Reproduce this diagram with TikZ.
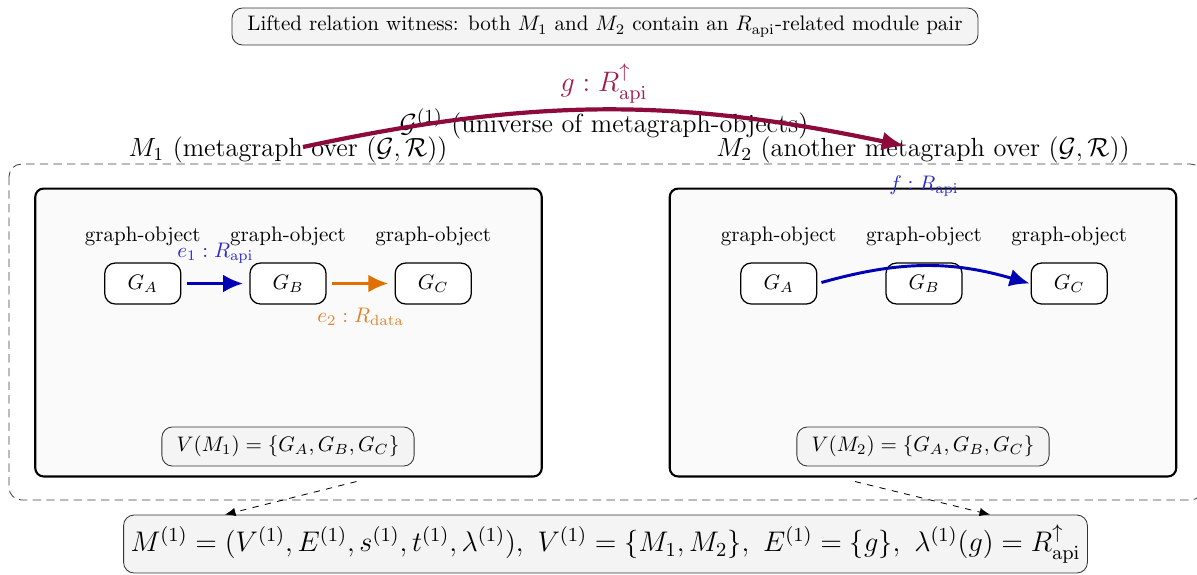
\RequirePackage{fix-cm}
\documentclass[tikz,border=0pt]{standalone}
\usepackage{amsmath}
\usepackage{amssymb}
\usetikzlibrary{arrows.meta,positioning,fit,backgrounds,calc}
\definecolor{liftred}{HTML}{8C0A3C}
\definecolor{liftlab}{HTML}{A01E4B}
\definecolor{apiblue}{HTML}{0000B4}
\definecolor{apilab}{HTML}{2828D2}
\definecolor{dataorange}{HTML}{E07000}
\definecolor{datalab}{HTML}{E08228}
\definecolor{panelbg}{HTML}{FAFAFA}
\definecolor{tagbg}{HTML}{F4F4F4}
\tikzset{
  headbox/.style={
    rectangle, rounded corners=5pt, draw=black!80, thin,
    fill=tagbg, minimum width=355pt, minimum height=17.6pt, font=\normalsize
  },
  mgbox/.style={
    rectangle, rounded corners=4pt, draw=black, line width=1pt,
    fill=panelbg, minimum width=241pt, minimum height=137pt
  },
  gobj/.style={
    rectangle, rounded corners=5pt, draw=black, semithick,
    fill=white, minimum width=36.2pt, minimum height=19.5pt
  },
  gcap/.style={font=\normalsize, inner sep=1pt},
  vset/.style={
    rectangle, rounded corners=5pt, draw=black!80, thin,
    fill=tagbg, minimum width=120pt, minimum height=18.6pt
  },
  mglabel/.style={font=\fontsize{12.5}{15}\selectfont, inner sep=0pt},
  edgelab/.style={font=\normalsize, inner sep=0pt},
  liftarrow/.style={-{Latex[length=11pt,width=9pt]}, line width=2pt, color=liftred},
  apiarrow/.style={-{Latex[length=9.5pt,width=8.5pt]}, line width=1.4pt, color=apiblue},
  dataarrow/.style={-{Latex[length=9.5pt,width=8.5pt]}, line width=1.4pt, color=dataorange},
  projarrow/.style={-{Latex[length=5pt,width=4pt]}, thin, dashed},
}
\begin{document}
\begin{tikzpicture}[x=0.01673cm, y=-0.01673cm, node distance=32.3pt]
  \useasboundingbox (0,0) rectangle (1197,574);
  % universe of metagraph-objects
  \draw[black!75, thin, dash pattern=on 4pt off 2.5pt, rounded corners=6pt] (9,164) rectangle (1203,500);
  \node[headbox] (head) at (605,26.5) {Lifted relation witness: both $M_1$ and $M_2$ contain an $R_{\mathrm{api}}$-related module pair};
  \node[mglabel] (univ) at (604,124) {$\mathcal{G}^{(1)}$ (universe of metagraph-objects)};

  % first metagraph
  \node[mgbox] (m1) at (288.5,332.5) {};
  \node[mglabel] (m1lab) at (288,150) {$M_1$ (metagraph over $(\mathcal{G},\mathcal{R})$)};
  \node[gobj] (m1b) at (288,283.5) {$G_B$};
  \node[gobj, left=of m1b] (m1a) {$G_A$};
  \node[gobj, right=of m1b] (m1c) {$G_C$};
  \foreach \g in {m1a,m1b,m1c}
    \node[gcap, above=6.5pt of \g] {graph-object};
  \node[vset] (v1) at (288,446.5) {$V(M_1)=\{G_A,G_B,G_C\}$};
  \draw[apiarrow, shorten <=2.5pt, shorten >=3pt] (m1a) -- node[edgelab, above=9pt, text=apilab]{$e_1 : R_{\mathrm{api}}$} (m1b);
  \draw[dataarrow, shorten <=2.5pt, shorten >=3pt] (m1b) -- node[edgelab, below=11pt, text=datalab]{$e_2 : R_{\mathrm{data}}$} (m1c);

  % second metagraph
  \node[mgbox] (m2) at (923,332.5) {};
  \node[mglabel] (m2lab) at (923,150) {$M_2$ (another metagraph over $(\mathcal{G},\mathcal{R})$)};
  \node[gobj] (m2b) at (924,283.5) {$G_B$};
  \node[gobj, left=of m2b] (m2a) {$G_A$};
  \node[gobj, right=of m2b] (m2c) {$G_C$};
  \foreach \g in {m2a,m2b,m2c}
    \node[gcap, above=6.5pt of \g] {graph-object};
  \node[vset] (v2) at (923,446.5) {$V(M_2)=\{G_A,G_B,G_C\}$};
  \draw[apiarrow] ($(m2a.east)+(4,-1)$) to[bend left=16] ($(m2c.west)+(-1,0)$);
  \node[edgelab, text=apilab] (flab) at (924,186) {$f : R_{\mathrm{api}}$};

  % lifted metagraph
  \node[rectangle, rounded corners=5pt, draw=black!80, thin, fill=tagbg,
        minimum width=456.5pt, minimum height=27.6pt, font=\fontsize{13.5}{16}\selectfont] (lift) at (605.5,544)
    {$M^{(1)}=(V^{(1)},E^{(1)},s^{(1)},t^{(1)},\lambda^{(1)}),\ V^{(1)}=\{M_1,M_2\},\ E^{(1)}=\{g\},\ \lambda^{(1)}(g)=R^{\uparrow}_{\mathrm{api}}$};
  \coordinate (p1) at ($(m1.south)+(68,4)$);
  \coordinate (p2) at ($(m2.south)+(-68,4)$);
  \draw[projarrow] (p1) -- (lift.north -| 225,0);
  \draw[projarrow] (p2) -- (lift.north -| 990,0);

  % lifted edge g
  \coordinate (gsrc) at (303,147);
  \coordinate (gtgt) at (905,146);
  \draw[liftarrow] (gsrc) to[bend left=12] node[above=-1pt, font=\fontsize{13.4}{16}\selectfont, text=liftlab]{$g : R^{\uparrow}_{\mathrm{api}}$} (gtgt);
\end{tikzpicture}
\end{document}
